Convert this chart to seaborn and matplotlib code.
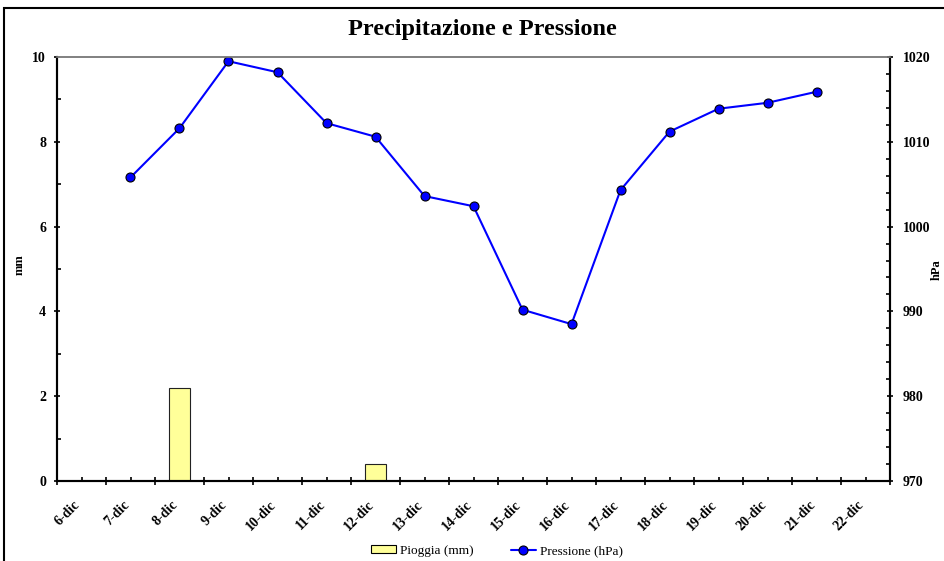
import matplotlib
matplotlib.use("Agg")
import matplotlib.pyplot as plt
import matplotlib.transforms as mtransforms
from matplotlib.patches import Rectangle, Patch
from matplotlib.lines import Line2D
from matplotlib.ticker import FixedLocator, MultipleLocator
import numpy as np
import pandas as pd
import seaborn as sns

# ---- data ----
days = ["6-dic", "7-dic", "8-dic", "9-dic", "10-dic", "11-dic", "12-dic", "13-dic",
        "14-dic", "15-dic", "16-dic", "17-dic", "18-dic", "19-dic", "20-dic",
        "21-dic", "22-dic"]
pioggia_mm = [0, 0, 2.2, 0, 0, 0, 0.4, 0, 0, 0, 0, 0, 0, 0, 0, 0, 0]
pressione_hpa = [np.nan, 1005.8, 1011.6, 1019.5, 1018.2, 1012.2, 1010.6, 1003.6,
                 1002.4, 990.2, 988.5, 1004.3, 1011.2, 1013.9, 1014.6, 1015.9, np.nan]
title = "Precipitazione e Pressione"
label_rain = "Pioggia (mm)"
label_press = "Pressione (hPa)"

sns.set_theme(style="white")
plt.rcParams["font.family"] = ["Liberation Serif", "DejaVu Serif"]
for k in ("text.color", "axes.labelcolor", "xtick.color", "ytick.color"):
    plt.rcParams[k] = "black"

df = pd.DataFrame({"giorno": days, "pioggia": pioggia_mm,
                   "pressione": pressione_hpa, "pos": np.arange(len(days))})

W, H = 945, 561
fig = plt.figure(figsize=(W / 100, H / 100), dpi=100)
ax = fig.add_axes([57 / W, 1 - 481 / H, (890 - 57) / W, (481 - 57) / H])

bar_color = "#FFFF99"
line_color = "#0000FF"

sns.barplot(data=df, x="giorno", y="pioggia", ax=ax, color=bar_color,
            width=0.43, saturation=1, edgecolor="#222222", linewidth=0.8)
n = len(days)
ax.set_xlim(-0.5, n - 0.5)
ax.set_ylim(0, 10)

ax2 = ax.twinx()
sns.lineplot(data=df.dropna(), x="pos", y="pressione", ax=ax2, color=line_color,
             linewidth=1.5, marker="o", markersize=6.5, markerfacecolor=line_color,
             markeredgecolor="black", markeredgewidth=0.8)
ax2.set_ylim(970, 1020)
ax2.set_xlim(-0.5, n - 0.5)

# x axis ticks: major at boundaries (cross), minor at centers with labels
ax.xaxis.set_major_locator(FixedLocator(np.arange(n + 1) - 0.5))
ax.set_xticklabels([""] * (n + 1))
ax.set_xticks(np.arange(n), labels=days, minor=True)
ax.tick_params(axis="x", which="major", direction="inout", length=6, width=1.2,
               color="black", bottom=True)
ax.tick_params(axis="x", which="minor", direction="in", length=3, width=1.2,
               color="black", bottom=True, pad=12.5)
offset = mtransforms.ScaledTranslation(-8 / 100, 0, fig.dpi_scale_trans)
for lab in ax.get_xticklabels(minor=True):
    lab.set_rotation(45)
    lab.set_ha("right")
    lab.set_va("top")
    lab.set_rotation_mode("anchor")
    lab.set_fontweight("bold")
    lab.set_fontsize(10)
    lab.set_transform(lab.get_transform() + offset)

ax.set_xlabel("")
ax.set_ylabel("")
ax.yaxis.set_major_locator(MultipleLocator(2))
ax.yaxis.set_minor_locator(MultipleLocator(1))
ax.tick_params(axis="y", which="major", direction="inout", length=5, width=1.2,
               left=True, labelsize=10, pad=5.4)
ax.tick_params(axis="y", which="minor", direction="in", length=3, width=1.2, left=True)
for lab in ax.get_yticklabels():
    lab.set_fontweight("bold")

ax2.set_xlabel("")
ax2.set_ylabel("")
ax2.yaxis.set_major_locator(MultipleLocator(10))
ax2.yaxis.set_minor_locator(MultipleLocator(2))
ax2.tick_params(axis="y", which="major", direction="inout", length=5, width=1.2,
                right=True, labelsize=10, pad=6.8)
ax2.tick_params(axis="y", which="minor", direction="in", length=3, width=1.2, right=True)
for lab in ax2.get_yticklabels():
    lab.set_fontweight("bold")

for a in (ax, ax2):
    for s in ("left", "bottom", "right"):
        a.spines[s].set_color("black")
        a.spines[s].set_linewidth(1.5)
    a.spines["top"].set_color("#808080")
    a.spines["top"].set_linewidth(1.2)
    a.grid(False)

# axis titles
fig.text(20 / W, 1 - 265 / H, "mm", rotation=90, ha="center", va="center",
         fontsize=9, fontweight="bold")
fig.text(937 / W, 1 - 270 / H, "hPa", rotation=90, ha="center", va="center",
         fontsize=9, fontweight="bold")

fig.text(482.5 / W, 1 - 30 / H, title, ha="center", va="center",
         fontsize=17.5, fontweight="bold")

handles = [Patch(facecolor=bar_color, edgecolor="black", linewidth=0.8),
           Line2D([0], [0], color=line_color, linewidth=1.5, marker="o",
                  markersize=6.5, markerfacecolor=line_color, markeredgecolor="black",
                  markeredgewidth=0.8)]
fig.legend(handles, [label_rain, label_press], loc="center",
           bbox_to_anchor=(497 / W, 1 - 551 / H), ncol=2, frameon=False,
           fontsize=9.5, handlelength=1.9, handleheight=0.55, columnspacing=2.8,
           handletextpad=0.3)

fig.patches.append(Rectangle((4 / W, -0.1), 1.2, 0.1 + 1 - 8 / H,
                             transform=fig.transFigure, fill=False,
                             edgecolor="black", linewidth=1.5))

fig.savefig("out.png", dpi=100, facecolor="white")
